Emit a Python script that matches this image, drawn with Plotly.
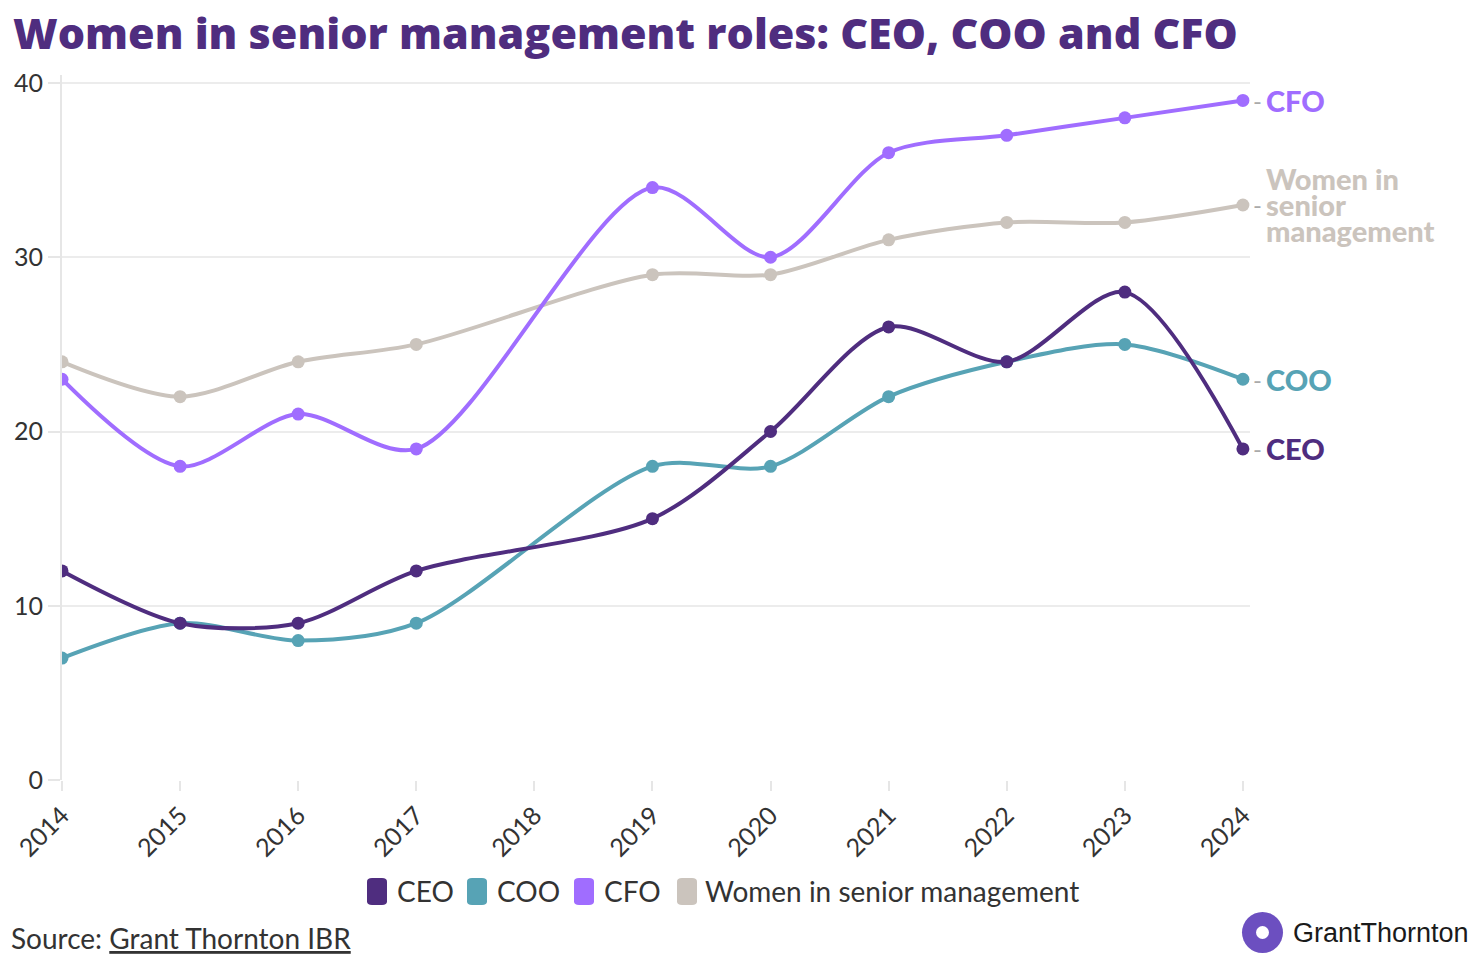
import plotly.graph_objects as go

years = [2014, 2015, 2016, 2017, 2018, 2019, 2020, 2021, 2022, 2023, 2024]
ceo = [12, 9, 9, 12, None, 15, 20, 26, 24, 28, 19]
coo = [7, 9, 8, 9, None, 18, 18, 22, 24, 25, 23]
cfo = [23, 18, 21, 19, None, 34, 30, 36, 37, 38, 39]
women = [24, 22, 24, 25, None, 29, 29, 31, 32, 32, 33]

names = ["CEO", "COO", "CFO", "Women in senior management"]
values = [ceo, coo, cfo, women]
colors = ["#4f2d7f", "#57a3b5", "#a06dff", "#cbc4bd"]
end_labels = [["CEO"], ["COO"], ["CFO"], ["Women in", "senior", "management"]]

# page-pixel helpers (figure is offset 8px by the page body margin)
W, H = 1473, 967
ML, MR, MT, MB = 54, 231, 67, 195
PW = W - ML - MR
PH = H - MT - MB


def px(page_x):
    return (page_x - 8 - ML) / PW


def py(page_y):
    return (H - MB - (page_y - 8)) / PH


fig = go.Figure()
for i in [3, 2, 1, 0]:
    fig.add_trace(go.Scatter(
        x=years, y=values[i], mode="lines+markers", name=names[i],
        line=dict(color=colors[i], width=4, shape="spline", smoothing=0.85),
        marker=dict(color=colors[i], size=13),
        connectgaps=True, showlegend=False,
    ))

LBL = "Lato"
for i in range(4):
    vals = values[i]
    fig.add_annotation(
        x=years[-1], y=vals[-1], xref="x", yref="y", text="-",
        showarrow=False, xanchor="left", yanchor="middle", xshift=8,
        font=dict(family=LBL, size=24, color="#aaaaaa"),
    )
    lines = end_labels[i]
    n = len(lines)
    for k, t in enumerate(lines):
        fig.add_annotation(
            x=years[-1], y=vals[-1], xref="x", yref="y", text=t,
            showarrow=False, xanchor="left", yanchor="middle", xshift=22,
            yshift=(n // 2 - k) * 26 if n > 1 else 0, borderpad=0,
            font=dict(family=LBL, size=29, color=colors[i], weight=900),
        )

# manual legend
legend_items = [(367, 395), (467, 495), (574, 602), (677, 703)]
for i, (sx, tx) in enumerate(legend_items):
    x0, x1 = px(sx), px(sx + 20)
    y0, y1 = py(905), py(878)
    rx, ry = (x1 - x0) * 0.25, (y1 - y0) * 0.14
    path = (f"M {x0+rx},{y0} L {x1-rx},{y0} Q {x1},{y0} {x1},{y0+ry} "
            f"L {x1},{y1-ry} Q {x1},{y1} {x1-rx},{y1} L {x0+rx},{y1} "
            f"Q {x0},{y1} {x0},{y1-ry} L {x0},{y0+ry} Q {x0},{y0} {x0+rx},{y0} Z")
    fig.add_shape(type="path", path=path, xref="paper", yref="paper",
                  fillcolor=colors[i], line=dict(width=0))
    fig.add_annotation(x=px(tx), y=py(891), xref="paper", yref="paper",
                       text=names[i], showarrow=False, xanchor="left", yanchor="middle",
                       font=dict(family="Lato", size=28, color="#333333"))

# title
fig.add_annotation(x=px(11), y=py(32), xref="paper", yref="paper",
                   text="Women in senior management roles: CEO, COO and CFO",
                   showarrow=False, xanchor="left", yanchor="middle",
                   font=dict(family="Open Sans", size=43, color="#4f2d7f", weight=800))

# source
fig.add_annotation(x=px(9), y=py(938), xref="paper", yref="paper",
                   text="Source: <u>Grant Thornton IBR</u>", showarrow=False,
                   xanchor="left", yanchor="middle",
                   font=dict(family="Lato", size=28, color="#333333"))

# logo
fig.add_shape(type="circle", xref="paper", yref="paper",
              x0=px(1242), x1=px(1283), y0=py(953), y1=py(912),
              fillcolor="#6c4fc0", line=dict(width=0))
fig.add_shape(type="circle", xref="paper", yref="paper",
              x0=px(1256), x1=px(1269), y0=py(939), y1=py(926),
              fillcolor="#ffffff", line=dict(width=0))
fig.add_annotation(x=px(1291), y=py(933), xref="paper", yref="paper",
                   text="GrantThornton", showarrow=False, xanchor="left", yanchor="middle",
                   font=dict(family="Liberation Sans", size=27, color="#1a1a1a"))

fig.update_layout(
    width=W, height=H,
    margin=dict(l=ML, r=MR, t=MT, b=MB, autoexpand=False),
    plot_bgcolor="white", paper_bgcolor="white",
    showlegend=False,
    xaxis=dict(range=[2014, 2024.06], tickmode="array", tickvals=years,
               ticktext=[str(y) for y in years], tickangle=-45,
               showgrid=False, zeroline=False, showline=False,
               ticks="outside", ticklen=10, tickcolor="#e6e6e6", tickwidth=2,
               tickfont=dict(family="Lato", size=25, color="#333333")),
    yaxis=dict(range=[0, 40.46], tickvals=[0, 10, 20, 30, 40],
               showgrid=True, gridcolor="#ececec", gridwidth=2,
               zeroline=False, showline=True, linecolor="#e6e6e6", linewidth=2,
               ticks="outside", ticklen=12, tickcolor="#e6e6e6", tickwidth=2,
               tickfont=dict(family="Lato", size=25, color="#333333")),
)

fig.write_html("out.html")
